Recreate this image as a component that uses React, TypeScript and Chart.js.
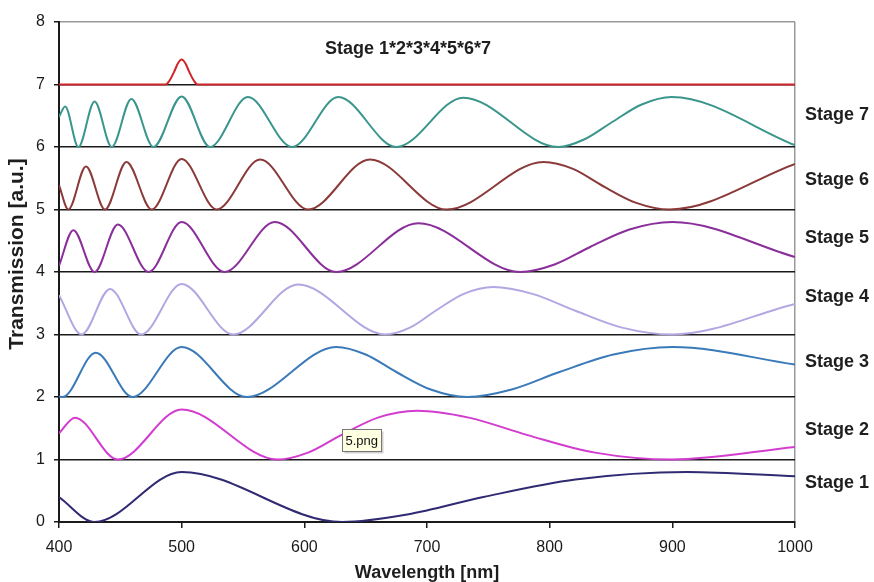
import React, { useEffect, useRef } from "react";
import { Chart, registerables } from "chart.js";

Chart.register(...registerables);

const FONT = "'Liberation Sans', Arial, Helvetica, sans-serif";

// ---- axis ticks ----
const xTickValues = [400, 500, 600, 700, 800, 900, 1000];
const yTickValues = [0, 1, 2, 3, 4, 5, 6, 7, 8];

// ---- series (wavelength nm / transmission a.u., stacked offsets included) ----
const stage1X = [400, 429, 500, 631, 684, 746, 821, 912, 1000];
const stage1Y = [0.4, 0.0, 0.8, 0.0, 0.12, 0.4, 0.68, 0.8, 0.73];

const stage2X = [400, 413, 448, 500, 578, 603, 630, 660, 692, 734, 782, 837, 900, 1000];
const stage2Y = [1.42, 1.67, 1.0, 1.8, 1.0, 1.11, 1.39, 1.67, 1.78, 1.67, 1.39, 1.11, 1.0, 1.2];

const stage3X = [400, 403, 430, 460, 500, 553, 626, 650, 675, 703, 733, 769, 808, 852, 900, 1000];
const stage3Y = [2.01, 2.0, 2.71, 2.0, 2.8, 2.0, 2.8, 2.68, 2.4, 2.12, 2.0, 2.12, 2.4, 2.68, 2.8, 2.52];

const stage4X = [400, 418.5, 441.6, 467, 500, 542, 595, 666, 686, 707, 730, 754, 786, 821, 859, 900, 1000];
const stage4Y = [3.63, 3.0, 3.73, 3.0, 3.81, 3.0, 3.8, 3.0, 3.11, 3.38, 3.65, 3.76, 3.65, 3.38, 3.11, 3.0, 3.49];

const stage5X = [400, 411.7, 429, 448, 473, 500, 535, 576, 626, 693, 776, 804, 833, 865, 900, 1000];
const stage5Y = [4.1, 4.67, 4.0, 4.76, 4.0, 4.8, 4.0, 4.8, 4.0, 4.78, 4.0, 4.12, 4.4, 4.68, 4.8, 4.24];

const stage6X = [400, 407.6, 422, 437.5, 455, 475.6, 500, 528.5, 564, 603, 653.5, 716, 795, 819, 843, 870, 898, 1000];
const stage6Y = [5.39, 5.0, 5.69, 5.0, 5.76, 5.0, 5.81, 5.0, 5.8, 5.0, 5.8, 5.0, 5.76, 5.65, 5.38, 5.11, 5.0, 5.73];

const stage7X = [400, 405, 415.8, 429, 443, 459, 477, 500, 523, 554, 590, 627.7, 675, 729.6, 807, 828, 851, 875, 899.5, 1000];
const stage7Y = [6.48, 6.65, 6.0, 6.73, 6.0, 6.77, 6.0, 6.81, 6.0, 6.8, 6.0, 6.8, 6.0, 6.79, 6.0, 6.12, 6.4, 6.68, 6.8, 6.03];

const productX = [400, 487, 490, 494, 497, 500, 503, 506, 510, 513, 1000];
const productY = [7.0, 7.0, 7.06, 7.21, 7.34, 7.4, 7.34, 7.21, 7.06, 7.0, 7.0];

const seriesNames = ["Stage 1", "Stage 2", "Stage 3", "Stage 4", "Stage 5", "Stage 6", "Stage 7"];
const productName = "Stage 1*2*3*4*5*6*7";
const xTitle = "Wavelength [nm]";
const yTitle = "Transmission [a.u.]";
const tooltipText = "5.png";

// ---- styles ----
const seriesColors = ["#2f2a72", "#d23ccf", "#3a7ab8", "#b4a6e2", "#8a2e9a", "#8b3a3a", "#3a968c"];
const productColor = "#d0262b";

function toPoints(xs: number[], ys: number[]) {
  return xs.map((x, i) => ({ x, y: ys[i] }));
}

const labelPlugin = {
  id: "stageLabels",
  afterDraw(chart: any) {
    const ctx = chart.ctx as CanvasRenderingContext2D;
    ctx.save();
    ctx.fillStyle = "#1e1e1e";
    ctx.font = `bold 18px ${FONT}`;
    ctx.textBaseline = "middle";
    ctx.textAlign = "left";
    const labelY = [483, 430, 362, 297, 238, 180, 115];
    seriesNames.forEach((name, i) => {
      ctx.fillText(name, 805, labelY[i]);
    });
    ctx.fillText(productName, 325, 49);

    // y-axis title
    ctx.save();
    ctx.translate(17, 254);
    ctx.rotate(-Math.PI / 2);
    ctx.textAlign = "center";
    ctx.font = `bold 21px ${FONT}`;
    ctx.fillText(yTitle, 0, 0);
    ctx.restore();

    // small tooltip-like box
    const bx = 342.5, by = 429.5, bw = 39, bh = 22;
    ctx.fillStyle = "rgba(0,0,0,0.18)";
    ctx.fillRect(bx + 2, by + 2, bw, bh);
    ctx.fillStyle = "#ffffe1";
    ctx.fillRect(bx, by, bw, bh);
    ctx.strokeStyle = "#767676";
    ctx.lineWidth = 1;
    ctx.strokeRect(bx, by, bw, bh);
    ctx.fillStyle = "#111";
    ctx.font = `13px ${FONT}`;
    ctx.textAlign = "left";
    ctx.fillText(tooltipText, bx + 3, by + bh / 2 + 1);
    ctx.restore();
  },
};

export default function App() {
  const canvasRef = useRef<HTMLCanvasElement | null>(null);

  useEffect(() => {
    if (!canvasRef.current) return;
    const stageX = [stage1X, stage2X, stage3X, stage4X, stage5X, stage6X, stage7X];
    const stageY = [stage1Y, stage2Y, stage3Y, stage4Y, stage5Y, stage6Y, stage7Y];
    const datasets: any[] = [
      {
        label: productName,
        data: toPoints(productX, productY),
        borderColor: productColor,
        borderWidth: 2,
        pointRadius: 0,
        fill: false,
        cubicInterpolationMode: "monotone",
      },
      ...seriesNames.map((name, i) => ({
        label: name,
        data: toPoints(stageX[i], stageY[i]),
        borderColor: seriesColors[i],
        borderWidth: 2,
        pointRadius: 0,
        fill: false,
        cubicInterpolationMode: "monotone",
      })),
    ];

    const chart = new Chart(canvasRef.current, {
      type: "line",
      data: { datasets },
      options: {
        animation: false,
        responsive: false,
        events: [],
        layout: { padding: { left: 0, right: 79, top: 22, bottom: 0 } },
        plugins: {
          legend: { display: false },
          tooltip: { enabled: false },
          title: { display: false },
        },
        scales: {
          x: {
            type: "linear",
            min: 400,
            max: 1000,
            afterBuildTicks: (scale: any) => {
              scale.ticks = xTickValues.map((v) => ({ value: v }));
            },
            afterFit: (scale: any) => {
              scale.height = 60;
            },
            ticks: {
              color: "#1a1a1a",
              font: { family: FONT, size: 16 },
              padding: 10,
              maxRotation: 0,
              callback: (v: any) => String(v),
            },
            grid: {
              color: (c: any) => (c.tick && c.tick.value === 1000 ? "#9a9a9a" : "rgba(0,0,0,0)"),
              lineWidth: 1.5,
              drawTicks: true,
              tickLength: 6,
              tickColor: "#1a1a1a",
              tickWidth: 1.5,
            },
            border: { display: true, color: "#1a1a1a", width: 2 },
            title: {
              display: true,
              text: xTitle,
              color: "#1e1e1e",
              font: { family: FONT, size: 18, weight: "bold", lineHeight: 1 },
              padding: { top: 0, bottom: 0 },
            },
          },
          y: {
            type: "linear",
            min: 0,
            max: 8,
            afterBuildTicks: (scale: any) => {
              scale.ticks = yTickValues.map((v) => ({ value: v }));
            },
            afterFit: (scale: any) => {
              scale.width = 59;
            },
            ticks: {
              color: "#1a1a1a",
              font: { family: FONT, size: 16 },
              padding: 9,
              callback: (v: any) => String(v),
            },
            grid: {
              color: (c: any) => (c.tick && c.tick.value === 8 ? "#9a9a9a" : "#1a1a1a"),
              lineWidth: 1.5,
              drawTicks: true,
              tickLength: 5,
              tickColor: "#1a1a1a",
              tickWidth: 1.5,
            },
            border: { display: true, color: "#1a1a1a", width: 2 },
            title: { display: false },
          },
        },
      },
      plugins: [labelPlugin],
    } as any);

    return () => {
      chart.destroy();
    };
  }, []);

  return (
    <div style={{ position: "fixed", left: 0, top: 0, width: 874, height: 582, background: "#fff" }}>
      <canvas ref={canvasRef} width={874} height={582} style={{ display: "block" }} />
    </div>
  );
}
